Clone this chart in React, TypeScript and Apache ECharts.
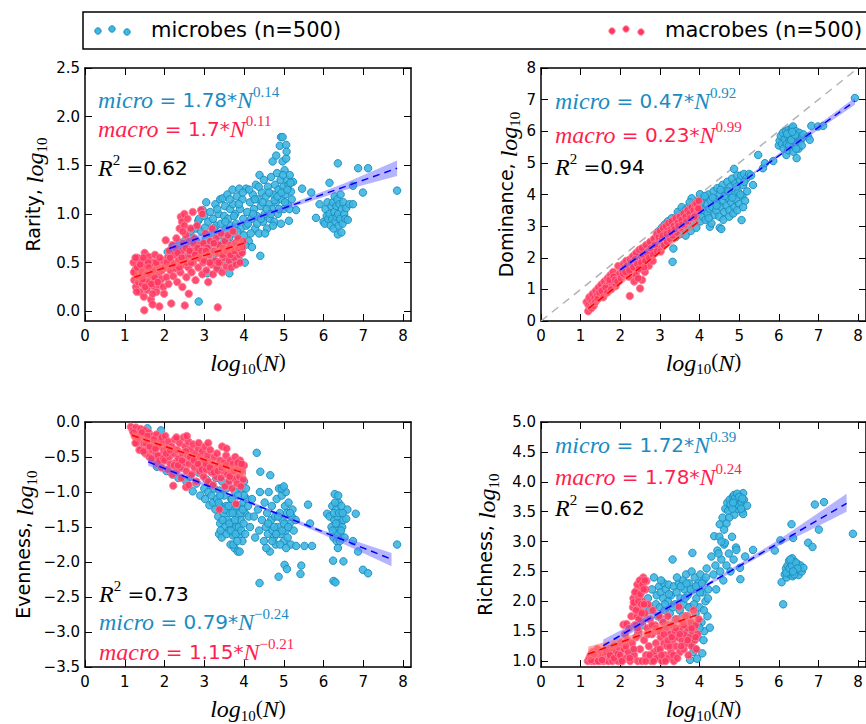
import React, { useEffect, useRef } from "react";
import * as echarts from "echarts";

type P = [number, number];
type B = [number, number, number];

const SANS = "'DejaVu Sans', sans-serif";
const SERIF = "'Liberation Serif', serif";

const MICRO_FILL = "#3db6e1";
const MICRO_EDGE = "#1b8bbd";
const MACRO_FILL = "#ff3760";
const MACRO_EDGE = "#ff7f98";
const MICRO_TEXT = "#1a8cc2";
const MACRO_TEXT = "#ff1f4f";

// ---- tick labels ----
const xTicks = [0, 1, 2, 3, 4, 5, 6, 7, 8];
const rarityTicks = [0, 0.5, 1, 1.5, 2, 2.5];
const dominanceTicks = [0, 1, 2, 3, 4, 5, 6, 7, 8];
const evennessTicks = [-3.5, -3, -2.5, -2, -1.5, -1, -0.5, 0];
const richnessTicks = [1, 1.5, 2, 2.5, 3, 3.5, 4, 4.5, 5];

// ---- text ----
const legendLabels = ["microbes (n=500)", "macrobes (n=500)"];
const yNames = ["Rarity, ", "Dominance, ", "Evenness, ", "Richness, "];
const microCoef = ["1.78", "0.47", "0.79", "1.72"];
const microExp = ["0.14", "0.92", "\u22120.24", "0.39"];
const macroCoef = ["1.7", "0.23", "1.15", "1.78"];
const macroExp = ["0.11", "0.99", "\u22120.21", "0.24"];
const r2Values = ["0.62", "0.94", "0.73", "0.62"];

// ---- Rarity ----
const rarityMicro: P[] = [
  [2.08,0.61],[2.2,0.66],[2.3,0.62],[2.38,0.7],[2.45,0.64],[2.5,0.72],[2.55,0.58],[2.62,0.68],[2.68,0.77],[2.72,0.62],[2.78,0.85],[2.8,0.72],[2.85,0.93],[2.87,0.95],[2.9,0.66],[2.86,0.1],[2.75,0.55],[2.92,0.82],
  [2.96,1.04],[3.0,0.98],[3.02,0.86],[3.05,0.75],[3.08,0.39],[3.1,0.92],[3.12,0.63],[3.15,1.02],[3.18,0.8],[3.2,0.55],[3.22,0.95],[3.25,0.7],[3.28,1.1],[3.3,0.88],[3.32,0.6],[3.34,0.44],[3.36,1.0],[3.38,0.78],[3.4,1.15],[3.42,0.9],[3.44,0.52],[3.46,1.16],[3.48,0.7],[3.5,0.98],
  [3.52,1.08],[3.54,0.84],[3.56,0.6],[3.58,1.2],[3.6,0.95],[3.62,0.75],[3.63,0.39],[3.65,1.05],[3.67,0.88],[3.69,0.5],[3.71,1.25],[3.72,1.1],[3.74,0.8],[3.76,0.65],[3.78,1.0],[3.8,0.9],[3.82,1.18],[3.84,0.72],[3.86,0.55],[3.88,1.26],[3.9,1.05],[3.92,0.85],[3.94,0.62],[3.96,1.15],[3.98,0.95],[4.0,0.78],[4.02,0.5],[4.05,1.26],[4.06,0.88],[4.08,1.02],
  [4.12,0.72],[4.15,1.12],[4.18,0.95],[4.2,0.66],[4.22,1.2],[4.25,1.05],[4.28,0.85],[4.3,1.3],[4.32,0.98],[4.35,1.15],[4.38,0.8],[4.39,1.4],[4.41,0.57],[4.42,1.08],[4.45,1.22],[4.48,0.92],[4.5,1.35],[4.52,1.0],[4.55,1.18],[4.58,0.85],[4.6,1.28],
  [4.62,1.1],[4.65,0.95],[4.68,1.38],[4.7,1.05],[4.72,1.54],[4.74,1.2],[4.76,0.92],[4.78,1.3],[4.8,1.12],[4.81,1.6],[4.83,1.42],[4.85,1.0],[4.87,1.25],[4.9,1.7],[4.92,1.35],[4.93,0.9],[4.93,1.79],[4.95,1.15],[4.97,1.54],[4.97,1.79],[4.99,1.28],[5.0,1.05],[5.02,1.45],[5.04,1.2],[5.06,1.71],[5.06,1.57],[5.07,1.64],[5.08,1.35],[5.1,1.1],[5.12,1.3],[5.13,0.93],[5.15,1.4],[5.18,1.23],[5.2,1.15],[5.23,1.33],[5.31,1.04],
  [3.05,1.12],[3.14,0.7],[3.24,0.85],[3.33,1.05],[3.43,0.65],[3.53,0.92],[3.57,0.72],[3.64,1.15],[3.7,0.68],[3.75,0.98],[3.83,0.82],[3.87,1.1],[3.93,0.72],[3.97,1.22],[4.03,0.68],[4.1,0.9],[4.13,1.25],[4.17,0.8],[4.23,1.0],[4.27,1.15],[4.33,0.9],[4.37,1.28],[4.43,0.95],[4.47,1.12],[4.53,0.8],[4.57,1.05],[4.63,1.22],[4.67,1.0],[4.73,0.88],[4.77,1.14],[4.84,1.18],[4.88,1.05],[4.94,1.22],[4.98,1.4],[5.03,1.12],[5.09,1.25],[5.14,1.05],[5.17,1.32],[3.35,0.68],[3.45,0.78],[2.65,0.82],[2.95,0.55],[3.0,0.68],
  [5.46,1.26],[5.69,1.22],[5.81,0.96],[5.9,1.1],
  [6.0,0.92],[6.03,0.9],[6.05,1.05],[6.08,0.98],[6.1,1.12],[6.12,0.95],[6.15,1.32],[6.15,1.0],[6.18,0.88],[6.2,1.08],[6.22,0.95],[6.24,1.12],[6.25,0.85],[6.27,1.02],[6.28,1.18],[6.3,0.92],[6.32,1.08],[6.33,0.97],[6.35,1.15],[6.36,0.79],[6.37,1.0],[6.38,0.88],[6.4,1.1],[6.42,0.95],[6.43,1.2],[6.45,0.81],[6.46,1.05],[6.48,0.9],[6.5,1.12],[6.52,1.0],[6.55,0.95],[6.57,1.06],[6.61,0.94],[6.65,1.1],[6.74,1.1],
  [6.36,1.52],[6.87,1.47],[7.12,1.47],[6.99,1.22],[6.74,1.29],[7.85,1.24],
];
const rarityMacro: P[] = [
  [1.22,0.5],[1.24,0.32],[1.26,0.42],[1.28,0.25],[1.3,0.38],[1.32,0.55],[1.34,0.3],[1.36,0.46],[1.38,0.2],[1.4,0.35],[1.42,0.52],[1.44,0.28],[1.46,0.42],[1.48,0.15],[1.49,0.01],[1.5,0.6],[1.52,0.33],[1.54,0.48],[1.56,0.22],[1.58,0.4],[1.6,0.56],[1.62,0.3],[1.64,0.45],[1.66,0.12],[1.68,0.36],[1.7,0.07],[1.7,0.5],[1.72,0.26],[1.74,0.42],[1.76,0.58],[1.78,0.32],[1.8,0.2],[1.82,0.47],[1.84,0.38],[1.86,0.27],[1.87,0.05],[1.9,0.43],[1.92,0.33],[1.95,0.52],[1.97,0.25],[1.99,0.18],
  [1.23,0.4],[1.27,0.55],[1.31,0.45],[1.35,0.36],[1.39,0.48],[1.43,0.4],[1.47,0.55],[1.51,0.25],[1.55,0.38],[1.59,0.5],[1.63,0.38],[1.67,0.28],[1.71,0.42],[1.75,0.35],[1.79,0.5],[1.83,0.3],[1.88,0.55],[1.93,0.42],[1.3,0.2],[1.45,0.33],[1.6,0.45],[1.7,0.18],
  [2.0,0.45],[2.03,0.73],[2.05,0.35],[2.08,0.55],[2.1,0.28],[2.12,0.62],[2.15,0.42],[2.17,0.08],[2.18,0.5],[2.2,0.68],[2.22,0.36],[2.25,0.58],[2.28,0.44],[2.3,0.75],[2.32,0.3],[2.35,0.52],[2.38,0.85],[2.4,0.4],[2.41,0.97],[2.42,0.62],[2.44,0.92],[2.45,0.25],[2.47,0.7],[2.48,0.48],[2.5,1.0],[2.5,0.88],[2.51,0.06],[2.52,0.55],[2.54,0.78],[2.55,0.35],[2.57,0.65],[2.58,0.95],[2.6,0.45],[2.61,0.18],[2.62,0.72],[2.64,0.58],[2.66,0.85],[2.68,0.4],[2.7,0.62],[2.71,1.02],[2.72,0.5],[2.75,0.75],[2.78,0.32],[2.8,0.6],[2.82,0.88],[2.85,0.45],[2.88,0.68],[2.9,0.55],[2.92,1.04],[2.95,1.0],[2.95,0.38],[2.98,0.7],
  [2.06,0.5],[2.14,0.55],[2.23,0.48],[2.27,0.65],[2.33,0.6],[2.37,0.45],[2.43,0.55],[2.46,0.82],[2.53,0.65],[2.56,0.5],[2.63,0.62],[2.67,0.5],[2.73,0.7],[2.77,0.58],[2.83,0.65],[2.87,0.55],[2.93,0.62],[2.97,0.5],
  [3.0,0.52],[3.03,0.8],[3.05,0.42],[3.08,0.65],[3.1,0.3],[3.12,0.58],[3.15,0.72],[3.18,0.48],[3.2,0.85],[3.22,0.38],[3.25,0.62],[3.28,0.52],[3.3,0.75],[3.32,0.44],[3.34,0.04],[3.35,0.6],[3.38,0.68],[3.4,0.5],[3.42,0.8],[3.45,0.4],[3.48,0.65],[3.5,0.55],[3.52,0.72],[3.55,0.46],[3.58,0.62],[3.6,0.78],[3.62,0.52],[3.65,0.68],[3.68,0.45],[3.7,0.6],[3.72,0.82],[3.75,0.55],[3.78,0.7],[3.8,0.48],[3.82,0.62],[3.85,0.75],[3.88,0.58],[3.9,0.5],[3.92,0.68],[3.95,0.6],[3.98,0.72],
  [3.04,0.62],[3.14,0.5],[3.24,0.7],[3.36,0.5],[3.46,0.58],[3.56,0.62],[3.66,0.58],[3.76,0.62],[3.86,0.65],[3.96,0.66],
];
const rarityMicroFit: P[] = [[2.12, 0.645], [7.85, 1.47]];
const rarityMicroBand: B[] = [[2.12, 0.6, 0.69], [3.5, 0.825, 0.865], [5, 1.04, 1.08], [6.5, 1.24, 1.31], [7.85, 1.39, 1.55]];
const rarityMacroFit: P[] = [[1.24, 0.35], [4.0, 0.7]];
const rarityMacroBand: B[] = [[1.24, 0.29, 0.41], [2.6, 0.495, 0.545], [4.0, 0.64, 0.76]];

// ---- Dominance ----
const dominanceMicro: P[] = [
  [2.1,1.65],[2.2,1.75],[2.3,1.6],[2.35,1.9],[2.45,1.85],[2.5,2.05],[2.55,1.95],[2.6,2.15],[2.65,2.05],[2.7,2.3],[2.75,2.2],[2.8,2.45],[2.85,2.35],[2.9,2.6],[2.95,2.5],[3.0,2.7],[2.98,2.85],
  [3.02,2.4],[3.05,2.95],[3.08,2.6],[3.1,2.8],[3.12,3.05],[3.15,2.7],[3.18,2.9],[3.2,3.15],[3.22,2.55],[3.25,3.0],[3.28,2.75],[3.3,3.25],[3.32,1.87],[3.34,2.29],[3.35,2.9],[3.38,3.1],[3.4,2.65],[3.42,3.3],[3.45,2.85],[3.48,3.05],[3.5,3.4],[3.52,2.75],[3.55,3.2],[3.58,2.95],[3.6,3.5],[3.62,3.1],[3.65,2.7],[3.68,3.35],[3.7,3.0],[3.72,3.6],[3.75,3.2],[3.78,2.85],[3.8,3.88],[3.82,3.45],[3.85,3.1],[3.88,3.65],[3.9,3.3],[3.92,2.95],[3.95,3.75],[3.98,3.4],[4.01,4.01],
  [3.45,3.45],[3.55,3.6],[3.65,3.5],[3.85,3.7],[3.75,3.75],
  [4.02,3.15],[4.05,3.6],[4.08,3.3],[4.1,3.85],[4.12,3.5],[4.15,3.2],[4.18,3.7],[4.2,3.4],[4.22,4.0],[4.25,3.55],[4.26,2.98],[4.28,3.8],[4.3,3.09],[4.32,3.6],[4.35,4.1],[4.38,3.35],[4.4,3.85],[4.42,3.5],[4.45,4.2],[4.48,3.7],[4.5,3.3],[4.51,2.95],[4.52,4.0],[4.55,2.91],[4.55,3.6],[4.58,4.3],[4.6,3.8],[4.62,3.45],[4.65,4.1],[4.68,3.65],[4.7,4.4],[4.72,3.9],[4.75,3.5],[4.78,4.25],[4.8,3.75],[4.82,4.5],[4.85,4.0],[4.87,4.81],[4.88,3.6],[4.9,4.35],[4.92,3.85],[4.95,4.6],[4.97,4.1],[5.0,3.7],[5.02,4.45],[5.05,4.6],[5.06,3.19],[5.08,3.95],[5.1,4.3],[5.12,4.65],[5.15,3.8],[5.18,4.5],[5.2,4.1],[5.25,4.65],[5.3,4.6],[5.35,4.3],
  [4.03,3.75],[4.13,3.95],[4.23,3.25],[4.33,3.9],[4.43,3.65],[4.53,4.15],[4.63,3.95],[4.73,4.1],[4.83,3.9],[4.93,4.25],[5.03,4.0],[5.13,4.4],[4.6,3.2],[4.75,3.3],[4.85,3.4],[4.95,3.5],[5.1,3.6],
  [5.48,5.25],[5.6,4.83],[5.65,4.99],[5.86,5.06],
  [6.0,5.55],[6.02,5.7],[6.05,5.85],[6.08,5.6],[6.1,5.95],[6.12,5.45],[6.15,5.75],[6.18,6.0],[6.19,5.25],[6.2,5.6],[6.22,5.85],[6.24,5.4],[6.25,6.05],[6.27,5.7],[6.28,5.95],[6.3,5.5],[6.32,5.8],[6.33,6.1],[6.35,5.65],[6.36,6.15],[6.37,5.35],[6.38,5.9],[6.4,5.55],[6.42,5.75],[6.43,6.0],[6.45,5.15],[6.46,5.6],[6.48,5.85],[6.5,5.45],[6.52,5.95],[6.55,5.7],[6.58,5.55],[6.6,5.8],[6.62,5.9],
  [6.26,5.55],[6.31,5.72],[6.41,5.88],[6.21,5.92],[6.44,5.45],[6.34,5.98],
  [6.74,5.83],[6.78,5.73],[6.82,6.17],[6.99,6.15],[7.12,6.17],[7.92,7.05],
];
const dominanceMacro: P[] = [
  [1.15,0.6],[1.19,0.31],[1.2,0.5],[1.22,0.75],[1.25,0.45],[1.28,0.62],[1.3,0.85],[1.32,0.55],[1.35,0.72],[1.38,0.95],[1.4,0.65],[1.42,0.82],[1.45,1.05],[1.48,0.75],[1.5,0.92],[1.52,1.15],[1.55,0.85],[1.58,1.02],[1.6,1.25],[1.62,0.95],[1.65,1.12],[1.68,1.35],[1.7,1.05],[1.72,1.2],[1.75,1.45],[1.78,1.1],[1.8,1.3],[1.82,1.55],[1.85,1.2],[1.88,1.1],[1.9,1.4],[1.95,1.74],[1.98,1.5],
  [1.27,0.4],[1.33,0.48],[1.37,0.6],[1.43,0.7],[1.47,0.9],[1.53,0.95],[1.57,0.75],[1.63,1.05],[1.67,0.9],[1.73,1.3],[1.77,1.0],[1.83,1.4],[1.87,1.3],[1.93,1.25],
  [2.02,1.35],[2.05,1.6],[2.08,1.8],[2.1,1.45],[2.12,1.7],[2.15,1.9],[2.18,1.55],[2.2,1.75],[2.22,1.4],[2.24,0.79],[2.25,1.95],[2.28,1.65],[2.3,1.85],[2.32,2.05],[2.35,1.5],[2.38,1.75],[2.4,2.15],[2.42,1.6],[2.45,1.9],[2.48,2.25],[2.5,1.03],[2.5,1.7],[2.52,2.0],[2.55,1.3],[2.55,2.3],[2.58,1.85],[2.6,2.1],[2.62,1.55],[2.65,2.4],[2.68,1.95],[2.7,2.2],[2.72,1.75],[2.75,2.5],[2.78,2.05],[2.8,2.3],[2.82,1.9],[2.85,2.6],[2.88,2.15],[2.9,2.45],[2.92,2.75],[2.95,2.3],[2.98,2.55],
  [2.07,1.5],[2.13,1.55],[2.17,1.75],[2.23,1.6],[2.27,1.85],[2.33,1.7],[2.37,1.95],[2.43,1.8],[2.47,1.65],[2.53,1.85],[2.57,2.1],[2.63,1.9],[2.67,2.15],[2.73,2.0],[2.77,2.3],[2.83,2.1],[2.87,2.4],[2.93,2.2],[2.97,2.65],[2.4,1.45],[2.6,1.7],[2.35,1.25],[2.45,1.35],
  [3.0,2.85],[3.02,2.2],[3.05,2.6],[3.08,2.95],[3.1,2.4],[3.12,2.75],[3.15,3.0],[3.18,2.5],[3.2,2.85],[3.22,3.1],[3.25,2.6],[3.28,2.9],[3.3,3.15],[3.32,2.7],[3.35,3.0],[3.4,3.25],[3.42,2.8],[3.45,3.1],[3.5,3.3],[3.52,2.95],[3.55,3.2],[3.6,3.4],[3.62,3.05],[3.65,3.3],[3.7,3.5],[3.72,3.15],[3.75,3.4],[3.8,3.6],[3.82,3.25],[3.85,3.5],[3.88,3.7],[3.9,3.35],[3.92,3.72],[3.95,3.55],[3.97,3.56],[3.98,3.8],
  [3.07,2.7],[3.17,2.75],[3.27,2.8],[3.37,2.9],[3.47,3.0],[3.57,3.05],[3.67,3.15],[3.77,3.25],[3.87,3.3],
];
const dominanceMicroFit: P[] = [[2.0, 1.62], [7.92, 6.95]];
const dominanceMicroBand: B[] = [[2.0, 1.54, 1.7], [4.0, 3.38, 3.48], [5.5, 4.76, 4.84], [7.92, 6.84, 7.06]];
const dominanceMacroFit: P[] = [[1.2, 0.4], [4.0, 3.17]];
const dominanceMacroBand: B[] = [[1.2, 0.3, 0.5], [2.6, 1.75, 1.83], [4.0, 3.07, 3.27]];
const oneToOne: P[] = [[0, 0], [8.2, 8.2]];

// ---- Evenness ----
const evennessMicro: P[] = [
  [1.57,-0.09],[1.91,-0.12],[1.81,-0.64],[2.05,-0.7],[2.2,-0.75],[2.35,-0.8],[2.44,-0.65],[2.55,-0.85],[2.65,-0.78],[2.71,-0.99],[2.8,-0.88],[2.85,-0.72],[2.9,-1.05],[2.95,-0.6],[3.0,-0.95],[3.02,-1.1],[3.05,-0.82],[3.08,-0.55],[3.1,-1.0],[3.13,-1.19],[3.15,-0.9],[3.18,-1.05],[3.2,-0.7],[3.22,-1.15],[3.25,-0.95],[3.28,-1.25],[3.3,-0.8],[3.32,-1.1],[3.35,-1.35],[3.37,-1.6],[3.38,-0.98],[3.4,-1.45],[3.42,-1.2],[3.44,-1.65],[3.45,-0.85],[3.48,-1.3],[3.5,-1.05],[3.52,-1.5],[3.55,-1.2],[3.58,-1.4],[3.6,-0.9],[3.62,-1.55],[3.64,-1.3],[3.66,-1.75],[3.68,-1.1],[3.7,-1.45],[3.72,-1.62],[3.74,-1.25],[3.76,-1.8],[3.78,-1.0],[3.8,-1.5],[3.82,-1.35],[3.84,-1.85],[3.86,-0.8],[3.88,-1.2],[3.9,-1.6],[3.92,-1.4],[3.94,-0.95],[3.96,-1.7],[3.98,-1.15],[4.0,-0.85],[4.02,-1.3],[4.05,-0.95],
  [3.36,-1.15],[3.41,-1.55],[3.46,-1.4],[3.51,-1.25],[3.56,-1.6],[3.61,-1.2],[3.63,-1.45],[3.67,-1.55],[3.71,-1.3],[3.73,-1.75],[3.77,-1.4],[3.79,-1.6],[3.81,-1.2],[3.83,-1.7],[3.87,-1.5],[3.89,-1.85],[3.91,-1.3],[3.93,-1.55],[3.97,-1.25],[3.99,-1.45],[4.03,-1.6],[4.07,-1.1],[4.12,-1.35],[4.0,-1.05],[3.85,-1.05],[3.7,-1.1],[3.55,-0.95],[3.4,-1.05],
  [4.1,-1.2],[4.15,-1.5],[4.2,-1.1],[4.25,-1.35],[4.28,-1.65],[4.32,-0.44],[4.35,-1.25],[4.38,-1.55],[4.39,-2.3],[4.4,-1.0],[4.41,-0.71],[4.45,-1.4],[4.5,-1.7],[4.52,-1.15],[4.55,-1.5],[4.58,-1.3],[4.6,-1.6],[4.62,-1.0],[4.65,-1.85],[4.66,-0.76],[4.68,-1.4],[4.7,-1.2],[4.72,-1.55],[4.75,-1.65],[4.78,-1.35],[4.8,-1.75],[4.82,-1.1],[4.85,-1.5],[4.87,-2.21],[4.88,-0.95],[4.9,-1.3],[4.92,-1.6],[4.95,-1.05],[4.97,-1.4],[5.0,-1.7],[5.02,-2.04],[5.03,-1.2],[5.05,-1.55],[5.08,-2.1],[5.08,-1.3],[5.1,-1.65],[5.12,-1.15],[5.15,-1.45],[5.18,-1.75],[5.2,-1.35],[5.22,-1.25],[5.25,-1.55],[5.3,-1.4],[5.31,-1.77],
  [4.56,-1.8],[4.61,-1.45],[4.71,-1.7],[4.76,-1.5],[4.81,-1.6],[4.86,-1.35],[4.91,-1.75],[4.96,-1.55],[5.01,-1.45],[5.06,-1.8],[5.11,-1.5],[5.16,-1.3],[5.05,-1.0],[4.95,-0.95],[5.0,-0.92],
  [5.42,-2.17],[5.44,-2.05],[5.52,-1.77],[5.61,-1.18],[5.66,-1.45],[5.71,-1.77],
  [6.09,-1.31],[6.15,-1.35],[6.2,-1.5],[6.22,-1.2],[6.24,-1.98],[6.25,-1.65],[6.25,-2.27],[6.27,-1.4],[6.28,-1.03],[6.3,-2.29],[6.3,-1.55],[6.32,-1.25],[6.33,-1.7],[6.35,-1.35],[6.36,-1.8],[6.38,-1.15],[6.4,-1.45],[6.42,-1.6],[6.43,-1.3],[6.45,-1.2],[6.47,-1.5],[6.5,-1.99],[6.5,-1.4],[6.53,-1.65],[6.57,-1.38],[6.6,-1.25],
  [6.26,-1.3],[6.31,-1.45],[6.34,-1.6],[6.39,-1.3],[6.44,-1.55],[6.29,-1.15],[6.37,-1.05],[6.41,-1.7],[6.23,-1.55],[6.48,-1.3],
  [6.74,-1.7],[6.81,-1.31],[6.87,-1.85],[6.99,-2.11],[7.12,-2.16],[7.85,-1.75],
];
const evennessMacro: P[] = [
  [1.15,-0.07],[1.2,-0.12],[1.25,-0.2],[1.28,-0.08],[1.3,-0.3],[1.35,-0.15],[1.38,-0.25],[1.4,-0.1],[1.42,-0.38],[1.45,-0.2],[1.48,-0.3],[1.5,-0.12],[1.52,-0.45],[1.55,-0.25],[1.58,-0.35],[1.6,-0.15],[1.62,-0.5],[1.65,-0.28],[1.68,-0.4],[1.7,-0.2],[1.72,-0.55],[1.75,-0.32],[1.78,-0.45],[1.8,-0.18],[1.82,-0.6],[1.85,-0.35],[1.88,-0.25],[1.9,-0.48],[1.92,-0.65],[1.95,-0.3],[1.98,-0.4],
  [1.22,-0.15],[1.27,-0.3],[1.33,-0.22],[1.37,-0.4],[1.43,-0.15],[1.47,-0.42],[1.53,-0.3],[1.57,-0.2],[1.63,-0.35],[1.67,-0.52],[1.73,-0.25],[1.77,-0.38],[1.83,-0.48],[1.87,-0.55],[1.93,-0.22],[1.97,-0.52],
  [2.0,-0.55],[2.02,-0.2],[2.05,-0.38],[2.08,-0.68],[2.1,-0.28],[2.12,-0.5],[2.15,-0.6],[2.18,-0.35],[2.2,-0.75],[2.22,-0.91],[2.24,-0.45],[2.26,-0.25],[2.28,-0.58],[2.3,-0.7],[2.32,-0.4],[2.35,-0.52],[2.38,-0.3],[2.4,-0.65],[2.42,-0.8],[2.45,-0.45],[2.48,-0.22],[2.5,-0.58],[2.52,-0.35],[2.54,-0.93],[2.55,-0.7],[2.58,-0.48],[2.6,-0.28],[2.61,-0.9],[2.62,-0.6],[2.65,-0.4],[2.68,-0.75],[2.7,-0.52],[2.72,-0.32],[2.75,-0.65],[2.78,-0.45],[2.8,-0.85],[2.82,-0.55],[2.85,-0.38],[2.88,-0.7],[2.9,-0.5],[2.92,-0.6],[2.95,-0.42],[2.98,-0.78],
  [2.04,-0.45],[2.14,-0.4],[2.24,-0.62],[2.34,-0.62],[2.44,-0.55],[2.54,-0.42],[2.64,-0.5],[2.74,-0.55],[2.84,-0.6],[2.94,-0.68],[2.3,-0.22],[2.56,-0.2],[2.86,-0.3],
  [3.0,-0.55],[3.02,-0.35],[3.05,-0.68],[3.08,-0.48],[3.1,-0.85],[3.12,-0.58],[3.15,-0.4],[3.18,-0.72],[3.2,-0.6],[3.22,-0.9],[3.25,-0.5],[3.28,-0.65],[3.3,-0.78],[3.32,-0.45],[3.35,-0.62],[3.38,-1.25],[3.4,-0.55],[3.42,-0.8],[3.45,-0.35],[3.48,-0.7],[3.5,-0.58],[3.52,-0.92],[3.55,-0.48],[3.58,-0.75],[3.6,-0.62],[3.62,-0.85],[3.65,-0.55],[3.68,-0.7],[3.7,-0.95],[3.72,-0.6],[3.75,-0.8],[3.78,-0.5],[3.8,-1.17],[3.8,-0.72],[3.82,-0.88],[3.85,-0.65],[3.88,-0.78],[3.9,-0.55],[3.92,-0.92],[3.95,-0.7],[3.98,-0.82],[4.0,-0.62],
  [3.04,-0.6],[3.14,-0.65],[3.24,-0.72],[3.34,-0.7],[3.44,-0.65],[3.54,-0.62],[3.64,-0.78],[3.74,-0.7],[3.84,-0.58],[3.94,-0.6],[3.1,-0.3],[3.56,-0.38],
];
const evennessMicroFit: P[] = [[1.59, -0.57], [7.71, -1.96]];
const evennessMicroBand: B[] = [[1.59, -0.625, -0.515], [3, -0.91, -0.87], [4.5, -1.25, -1.21], [6, -1.61, -1.55], [7.71, -2.06, -1.87]];
const evennessMacroFit: P[] = [[1.18, -0.19], [4.05, -0.74]];
const evennessMacroBand: B[] = [[1.18, -0.25, -0.13], [2.6, -0.49, -0.43], [4.05, -0.81, -0.67]];

// ---- Richness ----
const richnessMicro: P[] = [
  [2.33,1.18],[2.45,1.45],[2.55,1.6],[2.6,1.75],[2.65,1.9],[2.7,2.05],[2.75,1.85],[2.79,1.04],[2.8,2.2],[2.85,2.4],[2.87,1.07],[2.9,1.95],[2.92,2.1],[2.95,1.75],[2.98,2.25],
  [3.0,1.9],[3.02,2.15],[3.05,1.7],[3.08,2.05],[3.1,2.3],[3.12,1.85],[3.15,2.2],[3.18,1.6],[3.2,2.0],[3.22,2.28],[3.25,1.8],[3.28,2.1],[3.3,1.5],[3.32,2.7],[3.35,2.25],[3.38,1.95],[3.4,1.7],[3.42,2.15],[3.45,1.4],[3.48,2.3],[3.5,1.85],
  [3.52,2.05],[3.55,1.55],[3.58,2.35],[3.6,1.95],[3.62,2.2],[3.64,1.3],[3.66,2.45],[3.68,1.75],[3.7,2.1],[3.72,1.45],[3.74,2.3],[3.76,1.02],[3.77,1.9],[3.8,2.5],[3.82,2.81],[3.83,1.6],[3.84,1.15],[3.85,2.2],[3.88,2.4],[3.9,1.8],[3.92,2.05],[3.94,1.04],[3.95,1.4],[3.97,2.3],[4.0,1.9],[4.02,2.45],[4.05,1.65],[4.07,1.13],[4.08,2.15],[4.1,2.35],[4.12,1.5],[4.15,2.0],[4.18,2.55],[4.2,1.75],[4.22,2.2],[4.26,1.56],
  [3.03,2.35],[3.13,1.95],[3.23,2.12],[3.33,1.9],[3.43,2.4],[3.53,2.25],[3.57,1.75],[3.63,2.05],[3.67,2.3],[3.73,1.9],[3.78,2.2],[3.86,1.95],[3.91,2.25],[3.96,1.6],[4.01,2.15],[4.06,2.3],[4.11,1.85],[4.16,2.4],[4.21,2.05],[3.8,1.3],[3.9,1.2],[4.0,1.55],[4.1,1.35],[3.7,1.6],
  [4.3,2.75],[4.35,2.45],[4.37,3.09],[4.4,2.6],[4.42,2.2],[4.45,2.85],[4.5,3.08],[4.51,3.29],[4.52,2.5],[4.55,2.7],[4.58,3.4],[4.6,2.35],[4.62,2.95],[4.64,2.98],[4.65,3.55],[4.68,2.6],[4.7,3.65],[4.72,3.51],[4.74,2.8],[4.76,3.7],[4.78,2.5],[4.8,3.6],[4.82,3.08],[4.84,3.75],[4.86,2.7],[4.87,3.78],[4.88,3.45],[4.9,3.65],[4.92,2.9],[4.93,2.86],[4.93,3.73],[4.95,3.55],[4.97,3.7],[5.0,3.6],[5.02,2.56],[5.03,2.37],[5.04,3.75],[5.06,3.65],[5.08,3.5],[5.1,3.81],[5.1,3.46],[5.12,3.7],[5.15,2.75],[5.2,3.6],[5.35,2.86],
  [4.78,3.62],[4.83,3.55],[4.89,3.72],[4.95,3.8],[5.0,3.75],[5.05,3.55],[5.08,3.72],[4.85,3.65],[4.75,3.4],[4.68,3.3],[4.62,3.2],[4.55,3.0],[4.48,2.8],
  [5.9,2.85],[6.04,3.02],[6.07,2.32],[6.11,1.95],[6.32,3.29],[6.36,3.06],[6.74,2.98],[6.85,2.91],[6.91,3.62],[7.14,3.66],[7.01,3.2],[7.87,3.13],
  [6.15,2.45],[6.18,2.55],[6.2,2.4],[6.22,2.6],[6.24,2.5],[6.26,2.68],[6.28,2.45],[6.3,2.58],[6.32,2.5],[6.34,2.72],[6.35,2.42],[6.37,2.62],[6.38,2.52],[6.4,2.66],[6.42,2.46],[6.44,2.58],[6.46,2.5],[6.48,2.62],[6.5,2.44],[6.52,2.55],[6.55,2.6],[6.58,2.5],[6.62,2.56],
  [6.19,2.48],[6.27,2.55],[6.33,2.6],[6.39,2.45],[6.43,2.65],[6.47,2.55],[6.29,2.7],[6.36,2.5],
];
const richnessMacro: P[] = [
  [1.18,1.0],[1.22,1.05],[1.25,1.1],[1.28,1.0],[1.3,1.15],[1.32,1.05],[1.35,1.0],[1.38,1.12],[1.4,1.02],[1.42,1.2],[1.45,1.08],[1.48,1.0],[1.5,1.15],[1.52,1.05],[1.55,1.1],[1.58,1.0],[1.6,1.18],[1.62,1.08],[1.65,1.02],[1.68,1.12],[1.7,1.0],[1.72,1.2],[1.75,1.05],[1.78,1.15],[1.8,1.0],[1.82,1.1],[1.85,1.25],[1.88,1.02],[1.9,1.15],[1.92,1.05],[1.95,1.0],[1.98,1.2],
  [1.26,1.02],[1.34,1.12],[1.44,1.0],[1.54,1.02],[1.64,1.15],[1.74,1.1],[1.84,1.05],[1.94,1.12],
  [2.0,1.1],[2.02,1.3],[2.05,1.0],[2.08,1.61],[2.1,1.2],[2.12,1.45],[2.15,1.05],[2.16,1.62],[2.18,1.35],[2.2,1.15],[2.22,1.55],[2.25,1.0],[2.28,1.75],[2.3,1.3],[2.32,1.9],[2.33,2.05],[2.35,1.1],[2.36,1.6],[2.38,1.95],[2.4,1.4],[2.41,2.18],[2.42,1.75],[2.44,1.0],[2.45,2.1],[2.46,1.5],[2.48,1.85],[2.5,1.83],[2.5,1.2],[2.52,2.25],[2.54,1.65],[2.55,1.0],[2.56,2.0],[2.58,2.4],[2.6,1.35],[2.62,1.8],[2.64,2.2],[2.65,1.1],[2.66,2.34],[2.68,1.55],[2.7,1.95],[2.72,1.25],[2.75,1.7],[2.78,1.0],[2.8,1.45],[2.82,1.85],[2.85,1.15],[2.88,1.6],[2.9,1.3],[2.92,1.05],[2.95,1.5],[2.98,1.75],
  [2.34,1.98],[2.37,2.15],[2.4,1.85],[2.43,2.28],[2.46,2.0],[2.49,2.35],[2.51,2.12],[2.53,1.95],[2.56,2.28],[2.59,2.2],[2.62,2.35],[2.6,1.95],[2.47,1.7],[2.54,1.8],[2.39,1.6],[2.44,1.55],
  [2.04,1.0],[2.14,1.25],[2.24,1.05],[2.34,1.2],[2.64,1.0],[2.74,1.1],[2.84,1.0],[2.94,1.2],
  [3.0,1.2],[3.02,1.4],[3.05,1.0],[3.08,1.65],[3.1,1.3],[3.12,1.1],[3.15,1.55],[3.18,1.25],[3.2,1.75],[3.22,1.05],[3.25,1.45],[3.28,1.15],[3.3,1.6],[3.32,1.35],[3.35,1.0],[3.38,1.5],[3.4,1.25],[3.42,1.7],[3.45,1.4],[3.48,1.91],[3.5,1.15],[3.52,1.55],[3.55,1.35],[3.58,1.65],[3.6,1.2],[3.62,1.45],[3.65,1.75],[3.68,1.3],[3.7,1.55],[3.72,1.1],[3.75,1.4],[3.78,1.65],[3.8,1.25],[3.82,1.5],[3.85,1.85],[3.88,1.35],[3.9,1.6],[3.92,1.2],[3.95,1.45],[3.98,1.7],
  [3.04,1.1],[3.14,1.0],[3.24,1.25],[3.34,1.1],[3.44,1.05],[3.54,1.25],
  [2.7,1.45],[2.8,1.6],[2.9,1.55],[3.0,1.5],[3.1,1.45],[3.2,1.35],[3.3,1.4],[3.4,1.55],[3.5,1.45],[3.6,1.6],[3.7,1.35],[3.8,1.55],[3.9,1.4],
];
const richnessMicroFit: P[] = [[1.57, 1.26], [7.71, 3.64]];
const richnessMicroBand: B[] = [[1.57, 1.16, 1.36], [3, 1.78, 1.86], [4.5, 2.37, 2.43], [6, 2.93, 3.03], [7.71, 3.5, 3.8]];
const richnessMacroFit: P[] = [[1.19, 1.12], [3.92, 1.77]];
const richnessMacroBand: B[] = [[1.19, 1.0, 1.24], [2.5, 1.38, 1.48], [3.92, 1.65, 1.89]];

// ---- layout ----
const grids = [
  { left: 85, top: 68, width: 326, height: 253 },
  { left: 541, top: 68, width: 325, height: 253 },
  { left: 85, top: 422, width: 326, height: 251 },
  { left: 541, top: 422, width: 325, height: 252 },
];
const yRanges: P[] = [[-0.1, 2.5], [0, 8], [-3.5, 0], [0.9, 5.0]];
const yTickSets = [rarityTicks, dominanceTicks, evennessTicks, richnessTicks];
const yNameGaps = [36, 18, 46, 40];
const micros = [rarityMicro, dominanceMicro, evennessMicro, richnessMicro];
const macros = [rarityMacro, dominanceMacro, evennessMacro, richnessMacro];
const microFits = [rarityMicroFit, dominanceMicroFit, evennessMicroFit, richnessMicroFit];
const macroFits = [rarityMacroFit, dominanceMacroFit, evennessMacroFit, richnessMacroFit];
const microBands = [rarityMicroBand, dominanceMicroBand, evennessMicroBand, richnessMicroBand];
const macroBands = [rarityMacroBand, dominanceMacroBand, evennessMacroBand, richnessMacroBand];
// text anchor positions [x, microY, macroY, r2Y]
const textPos = [
  [98, 100, 129, 168],
  [555, 101, 135, 167],
  [99, 622, 652, 594],
  [555, 445, 477, 508],
];

const fmtY = (i: number) => (v: number) => {
  if (i === 1) return String(Math.round(v));
  const s = v.toFixed(1);
  return s.startsWith("-") ? "\u2212" + s.slice(1) : s;
};

const axisLine = { show: true, onZero: false, lineStyle: { color: "#000", width: 1.5 } };

const eqRich = (color: string) => ({
  i: { fontFamily: SERIF, fontStyle: "italic", fontSize: 24, lineHeight: 32, fill: color },
  t: { fontFamily: SANS, fontSize: 20, lineHeight: 32, fill: color },
  sup: { fontFamily: SERIF, fontSize: 15, lineHeight: 12, verticalAlign: "top", fill: color },
});

const nameRich = {
  s: { fontFamily: SANS, fontSize: 19, lineHeight: 26, verticalAlign: "top", color: "#000" },
  i: { fontFamily: SERIF, fontStyle: "italic", fontSize: 24, lineHeight: 26, verticalAlign: "top", color: "#000" },
  p: { fontFamily: SERIF, fontSize: 21, lineHeight: 26, verticalAlign: "top", color: "#000" },
  sub: { fontFamily: SERIF, fontSize: 15, lineHeight: 15, padding: [18, 0, 0, 0], verticalAlign: "bottom", color: "#000" },
};

function buildOption() {
  const xAxis: any[] = [];
  const yAxis: any[] = [];
  const series: any[] = [];
  const graphic: any[] = [];

  grids.forEach((_, i) => {
    const tick = { inside: true, length: 7, customValues: xTicks, lineStyle: { color: "#000", width: 1 } };
    xAxis.push({
      type: "value", gridIndex: i, position: "bottom", min: 0, max: 8.2,
      axisLine, axisTick: tick, splitLine: { show: false },
      axisLabel: { customValues: xTicks, margin: 7, fontSize: 15, color: "#000", fontFamily: SANS, formatter: (v: number) => String(v) },
      name: "{i|log}{sub|10}{p|(}{i|N}{p|)}", nameLocation: "middle", nameGap: 22,
      nameTextStyle: { rich: nameRich },
    });
    xAxis.push({
      type: "value", gridIndex: i, position: "top", min: 0, max: 8.2,
      axisLine, axisTick: tick, splitLine: { show: false }, axisLabel: { show: false },
    });
    const yt = yTickSets[i];
    const ytick = { inside: true, length: 7, customValues: yt, lineStyle: { color: "#000", width: 1 } };
    yAxis.push({
      type: "value", gridIndex: i, position: "left", min: yRanges[i][0], max: yRanges[i][1],
      axisLine, axisTick: ytick, splitLine: { show: false },
      axisLabel: { customValues: yt, margin: 5, fontSize: 15, color: "#000", fontFamily: SANS, formatter: fmtY(i) },
      name: `{s|${yNames[i]}}{i|log}{sub|10}`, nameLocation: "middle", nameGap: yNameGaps[i],
      nameTextStyle: { rich: nameRich },
    });
    yAxis.push({
      type: "value", gridIndex: i, position: "right", min: yRanges[i][0], max: yRanges[i][1],
      axisLine, axisTick: ytick, splitLine: { show: false }, axisLabel: { show: false },
    });

    const xi = 2 * i;
    const yi = 2 * i;
    if (i === 1) {
      series.push({
        type: "line", xAxisIndex: xi, yAxisIndex: yi, data: oneToOne, symbol: "none", silent: true, z: 1,
        lineStyle: { color: "#b3b3b3", width: 1.5, type: [8, 6] },
      });
    }
    series.push({
      type: "scatter", xAxisIndex: xi, yAxisIndex: yi, data: micros[i], symbolSize: 7.5, silent: true, z: 2,
      itemStyle: { color: MICRO_FILL, borderColor: MICRO_EDGE, borderWidth: 1, opacity: 0.9 },
    });
    series.push({
      type: "scatter", xAxisIndex: xi, yAxisIndex: yi, data: macros[i], symbolSize: 7.5, silent: true, z: 3,
      itemStyle: { color: MACRO_FILL, borderColor: MACRO_EDGE, borderWidth: 1, opacity: 0.9 },
    });
    const bandSeries = (band: B[], fill: string, opacity: number) => ({
      type: "custom", xAxisIndex: xi, yAxisIndex: yi, silent: true, z: 4,
      data: [[band[0][0], band[0][1]]],
      renderItem: (_p: any, api: any) => {
        const upper = band.map((b) => api.coord([b[0], b[2]]));
        const lower = band.slice().reverse().map((b) => api.coord([b[0], b[1]]));
        return { type: "polygon", shape: { points: upper.concat(lower) }, style: { fill, opacity } };
      },
    });
    series.push(bandSeries(microBands[i], "#6a6aff", 0.5));
    series.push(bandSeries(macroBands[i], "#ff7070", 0.6));
    series.push({
      type: "line", xAxisIndex: xi, yAxisIndex: yi, data: microFits[i], symbol: "none", silent: true, z: 5,
      lineStyle: { color: "#0000ff", width: 1.5, type: [7, 5] },
    });
    series.push({
      type: "line", xAxisIndex: xi, yAxisIndex: yi, data: macroFits[i], symbol: "none", silent: true, z: 5,
      lineStyle: { color: "#ff0000", width: 1.5, type: [7, 5] },
    });

    const [tx, my, ay, ry] = textPos[i];
    graphic.push({
      type: "text", x: tx, y: my, z: 100,
      style: { text: `{i|micro}{t| = ${microCoef[i]}*}{i|N}{sup|${microExp[i]}}`, rich: eqRich(MICRO_TEXT), verticalAlign: "middle", align: "left" },
    });
    graphic.push({
      type: "text", x: tx, y: ay, z: 100,
      style: { text: `{i|macro}{t| = ${macroCoef[i]}*}{i|N}{sup|${macroExp[i]}}`, rich: eqRich(MACRO_TEXT), verticalAlign: "middle", align: "left" },
    });
    graphic.push({
      type: "text", x: tx, y: ry, z: 100,
      style: { text: `{i|R}{sup|2}{t| =${r2Values[i]}}`, rich: eqRich("#000"), verticalAlign: "middle", align: "left" },
    });
  });

  // legend
  graphic.push({ type: "rect", shape: { x: 83, y: 12, width: 800, height: 37 }, style: { fill: "#fff", stroke: "#000", lineWidth: 1.5 }, z: 50 });
  const legendDots: [number, number][] = [[98, 31], [112, 29], [127, 32]];
  legendDots.forEach(([x, y]) => {
    graphic.push({ type: "circle", shape: { cx: x, cy: y, r: 3.2 }, style: { fill: MICRO_FILL, stroke: MICRO_EDGE, lineWidth: 1 }, z: 51 });
    graphic.push({ type: "circle", shape: { cx: x + 514, cy: y, r: 3.2 }, style: { fill: MACRO_FILL, stroke: MACRO_EDGE, lineWidth: 1 }, z: 51 });
  });
  graphic.push({ type: "text", x: 151, y: 30, z: 51, style: { text: legendLabels[0], fontFamily: SANS, fontSize: 21, fill: "#000", verticalAlign: "middle" } });
  graphic.push({ type: "text", x: 665, y: 30, z: 51, style: { text: legendLabels[1], fontFamily: SANS, fontSize: 21, fill: "#000", verticalAlign: "middle" } });

  return {
    animation: false,
    backgroundColor: "#fff",
    textStyle: { fontFamily: SANS },
    grid: grids.map((g) => ({ ...g, containLabel: false })),
    xAxis, yAxis, series, graphic,
  };
}

export default function App() {
  const ref = useRef<HTMLDivElement>(null);
  useEffect(() => {
    if (!ref.current) return;
    const chart = echarts.init(ref.current, undefined, { renderer: "svg" });
    chart.setOption(buildOption() as any);
    return () => chart.dispose();
  }, []);
  return <div ref={ref} style={{ position: "absolute", left: 0, top: 0, width: 866, height: 724 }} />;
}
